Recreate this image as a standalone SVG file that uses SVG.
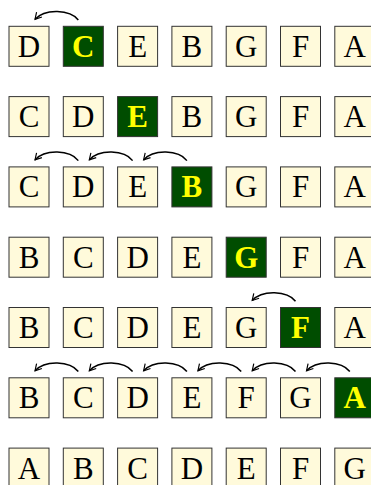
<svg xmlns="http://www.w3.org/2000/svg" width="371" height="485" viewBox="0 0 371 485">
<style>
.box{fill:#fffadb;stroke:#333;stroke-width:1}
.hl{fill:#004d00;stroke:#333;stroke-width:1}
.t{font-family:"Liberation Serif","Times New Roman",serif;font-size:31px;text-anchor:middle;fill:#000}
.th{font-family:"Liberation Serif","Times New Roman",serif;font-size:31px;font-weight:bold;text-anchor:middle;fill:#ffff00}
.arr{fill:none;stroke:#000;stroke-width:1.5;marker-end:url(#ah)}
</style>
<defs>
<marker id="ah" viewBox="0 0 10 10" refX="8" refY="5" markerWidth="9" markerHeight="9" markerUnits="userSpaceOnUse" orient="auto">
<path d="M1,1 L8,5 L1,9" fill="none" stroke="#000" stroke-width="1.3"/>
</marker>
</defs>

<g id="row1" transform="translate(0,26.3)">
<g id="r1c0"><rect class="box" x="9" y="0" width="40" height="40"/><text class="t" x="29" y="30.5">D</text></g>
<g id="r1c1"><rect class="hl" x="63.3" y="0" width="40" height="40"/><text class="th" x="83.3" y="30.5">C</text></g>
<g id="r1c2"><rect class="box" x="117.6" y="0" width="40" height="40"/><text class="t" x="137.6" y="30.5">E</text></g>
<g id="r1c3"><rect class="box" x="171.9" y="0" width="40" height="40"/><text class="t" x="191.9" y="30.5">B</text></g>
<g id="r1c4"><rect class="box" x="226.2" y="0" width="40" height="40"/><text class="t" x="246.2" y="30.5">G</text></g>
<g id="r1c5"><rect class="box" x="280.5" y="0" width="40" height="40"/><text class="t" x="300.5" y="30.5">F</text></g>
<g id="r1c6"><rect class="box" x="334.8" y="0" width="40" height="40"/><text class="t" x="354.8" y="30.5">A</text></g>
</g>

<g id="row2" transform="translate(0,96.6)">
<g id="r2c0"><rect class="box" x="9" y="0" width="40" height="40"/><text class="t" x="29" y="30.5">C</text></g>
<g id="r2c1"><rect class="box" x="63.3" y="0" width="40" height="40"/><text class="t" x="83.3" y="30.5">D</text></g>
<g id="r2c2"><rect class="hl" x="117.6" y="0" width="40" height="40"/><text class="th" x="137.6" y="30.5">E</text></g>
<g id="r2c3"><rect class="box" x="171.9" y="0" width="40" height="40"/><text class="t" x="191.9" y="30.5">B</text></g>
<g id="r2c4"><rect class="box" x="226.2" y="0" width="40" height="40"/><text class="t" x="246.2" y="30.5">G</text></g>
<g id="r2c5"><rect class="box" x="280.5" y="0" width="40" height="40"/><text class="t" x="300.5" y="30.5">F</text></g>
<g id="r2c6"><rect class="box" x="334.8" y="0" width="40" height="40"/><text class="t" x="354.8" y="30.5">A</text></g>
</g>

<g id="row3" transform="translate(0,166.9)">
<g id="r3c0"><rect class="box" x="9" y="0" width="40" height="40"/><text class="t" x="29" y="30.5">C</text></g>
<g id="r3c1"><rect class="box" x="63.3" y="0" width="40" height="40"/><text class="t" x="83.3" y="30.5">D</text></g>
<g id="r3c2"><rect class="box" x="117.6" y="0" width="40" height="40"/><text class="t" x="137.6" y="30.5">E</text></g>
<g id="r3c3"><rect class="hl" x="171.9" y="0" width="40" height="40"/><text class="th" x="191.9" y="30.5">B</text></g>
<g id="r3c4"><rect class="box" x="226.2" y="0" width="40" height="40"/><text class="t" x="246.2" y="30.5">G</text></g>
<g id="r3c5"><rect class="box" x="280.5" y="0" width="40" height="40"/><text class="t" x="300.5" y="30.5">F</text></g>
<g id="r3c6"><rect class="box" x="334.8" y="0" width="40" height="40"/><text class="t" x="354.8" y="30.5">A</text></g>
</g>

<g id="row4" transform="translate(0,237.2)">
<g id="r4c0"><rect class="box" x="9" y="0" width="40" height="40"/><text class="t" x="29" y="30.5">B</text></g>
<g id="r4c1"><rect class="box" x="63.3" y="0" width="40" height="40"/><text class="t" x="83.3" y="30.5">C</text></g>
<g id="r4c2"><rect class="box" x="117.6" y="0" width="40" height="40"/><text class="t" x="137.6" y="30.5">D</text></g>
<g id="r4c3"><rect class="box" x="171.9" y="0" width="40" height="40"/><text class="t" x="191.9" y="30.5">E</text></g>
<g id="r4c4"><rect class="hl" x="226.2" y="0" width="40" height="40"/><text class="th" x="246.2" y="30.5">G</text></g>
<g id="r4c5"><rect class="box" x="280.5" y="0" width="40" height="40"/><text class="t" x="300.5" y="30.5">F</text></g>
<g id="r4c6"><rect class="box" x="334.8" y="0" width="40" height="40"/><text class="t" x="354.8" y="30.5">A</text></g>
</g>

<g id="row5" transform="translate(0,307.5)">
<g id="r5c0"><rect class="box" x="9" y="0" width="40" height="40"/><text class="t" x="29" y="30.5">B</text></g>
<g id="r5c1"><rect class="box" x="63.3" y="0" width="40" height="40"/><text class="t" x="83.3" y="30.5">C</text></g>
<g id="r5c2"><rect class="box" x="117.6" y="0" width="40" height="40"/><text class="t" x="137.6" y="30.5">D</text></g>
<g id="r5c3"><rect class="box" x="171.9" y="0" width="40" height="40"/><text class="t" x="191.9" y="30.5">E</text></g>
<g id="r5c4"><rect class="box" x="226.2" y="0" width="40" height="40"/><text class="t" x="246.2" y="30.5">G</text></g>
<g id="r5c5"><rect class="hl" x="280.5" y="0" width="40" height="40"/><text class="th" x="300.5" y="30.5">F</text></g>
<g id="r5c6"><rect class="box" x="334.8" y="0" width="40" height="40"/><text class="t" x="354.8" y="30.5">A</text></g>
</g>

<g id="row6" transform="translate(0,377.8)">
<g id="r6c0"><rect class="box" x="9" y="0" width="40" height="40"/><text class="t" x="29" y="30.5">B</text></g>
<g id="r6c1"><rect class="box" x="63.3" y="0" width="40" height="40"/><text class="t" x="83.3" y="30.5">C</text></g>
<g id="r6c2"><rect class="box" x="117.6" y="0" width="40" height="40"/><text class="t" x="137.6" y="30.5">D</text></g>
<g id="r6c3"><rect class="box" x="171.9" y="0" width="40" height="40"/><text class="t" x="191.9" y="30.5">E</text></g>
<g id="r6c4"><rect class="box" x="226.2" y="0" width="40" height="40"/><text class="t" x="246.2" y="30.5">F</text></g>
<g id="r6c5"><rect class="box" x="280.5" y="0" width="40" height="40"/><text class="t" x="300.5" y="30.5">G</text></g>
<g id="r6c6"><rect class="hl" x="334.8" y="0" width="40" height="40"/><text class="th" x="354.8" y="30.5">A</text></g>
</g>

<g id="row7" transform="translate(0,448.1)">
<g id="r7c0"><rect class="box" x="9" y="0" width="40" height="40"/><text class="t" x="29" y="30.5">A</text></g>
<g id="r7c1"><rect class="box" x="63.3" y="0" width="40" height="40"/><text class="t" x="83.3" y="30.5">B</text></g>
<g id="r7c2"><rect class="box" x="117.6" y="0" width="40" height="40"/><text class="t" x="137.6" y="30.5">C</text></g>
<g id="r7c3"><rect class="box" x="171.9" y="0" width="40" height="40"/><text class="t" x="191.9" y="30.5">D</text></g>
<g id="r7c4"><rect class="box" x="226.2" y="0" width="40" height="40"/><text class="t" x="246.2" y="30.5">E</text></g>
<g id="r7c5"><rect class="box" x="280.5" y="0" width="40" height="40"/><text class="t" x="300.5" y="30.5">F</text></g>
<g id="r7c6"><rect class="box" x="334.8" y="0" width="40" height="40"/><text class="t" x="354.8" y="30.5">G</text></g>
</g>

<g id="connectors">
<g transform="translate(0,26.3)">
<path class="arr" d="M78.3,-6.3 C70,-17 45,-18 35,-7"/>
</g>
<g transform="translate(0,166.9)">
<path class="arr" d="M78.3,-6.3 C70,-17 45,-18 35,-7"/>
<path class="arr" d="M132.6,-6.3 C124.3,-17 99.3,-18 89.3,-7"/>
<path class="arr" d="M186.9,-6.3 C178.6,-17 153.6,-18 143.6,-7"/>
</g>
<g transform="translate(0,307.5)">
<path class="arr" d="M295.5,-6.3 C287.2,-17 262.2,-18 252.2,-7"/>
</g>
<g transform="translate(0,377.8)">
<path class="arr" d="M78.3,-6.3 C70,-17 45,-18 35,-7"/>
<path class="arr" d="M132.6,-6.3 C124.3,-17 99.3,-18 89.3,-7"/>
<path class="arr" d="M186.9,-6.3 C178.6,-17 153.6,-18 143.6,-7"/>
<path class="arr" d="M241.2,-6.3 C232.9,-17 207.9,-18 197.9,-7"/>
<path class="arr" d="M295.5,-6.3 C287.2,-17 262.2,-18 252.2,-7"/>
<path class="arr" d="M349.8,-6.3 C341.5,-17 316.5,-18 306.5,-7"/>
</g>
</g>
</svg>
